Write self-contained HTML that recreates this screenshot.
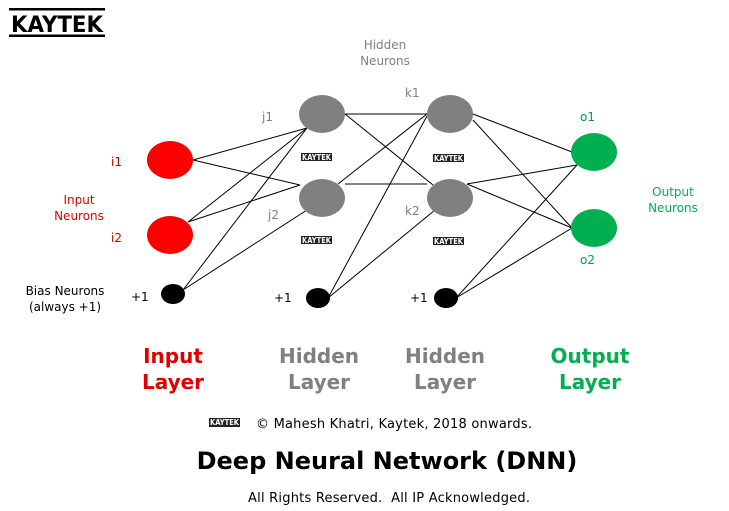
<!DOCTYPE html>
<html><head><meta charset="utf-8"><style>
html,body{margin:0;padding:0;background:#fff;}
svg{display:block;}
text{font-family:"DejaVu Sans","Liberation Sans",sans-serif;}
</style></head><body>
<svg width="729" height="511" viewBox="0 0 729 511" xmlns="http://www.w3.org/2000/svg">
<rect width="729" height="511" fill="#fff"/>
<rect x="9" y="8" width="96" height="2.5" fill="#000"/>
<rect x="9" y="34.5" width="96" height="2.5" fill="#000"/>
<text x="57" y="32" font-size="22" font-weight="bold" text-anchor="middle" textLength="92" lengthAdjust="spacingAndGlyphs" fill="#000">KAYTEK</text>
<g stroke="#000" stroke-width="1" fill="none">
<line x1="193" y1="160" x2="307" y2="128"/>
<line x1="193" y1="160" x2="300" y2="185"/>
<line x1="188" y1="222" x2="307" y2="128"/>
<line x1="188" y1="222" x2="300" y2="185"/>
<line x1="183" y1="290" x2="307" y2="128"/>
<line x1="183" y1="290" x2="307" y2="210"/>
<line x1="345" y1="114" x2="427" y2="114"/>
<line x1="345" y1="114" x2="433" y2="185"/>
<line x1="338" y1="184" x2="427" y2="114"/>
<line x1="345" y1="184" x2="427" y2="184"/>
<line x1="328" y1="298" x2="427" y2="116"/>
<line x1="328" y1="298" x2="435" y2="210"/>
<line x1="473" y1="114" x2="572" y2="152"/>
<line x1="473" y1="120" x2="572" y2="228"/>
<line x1="467" y1="184" x2="577" y2="165"/>
<line x1="467" y1="184" x2="572" y2="228"/>
<line x1="456" y1="298" x2="577" y2="165"/>
<line x1="456" y1="298" x2="572" y2="228"/>
</g>
<ellipse cx="170" cy="160" rx="23" ry="19" fill="#f00"/>
<ellipse cx="170" cy="235" rx="23" ry="19" fill="#f00"/>
<ellipse cx="322" cy="114" rx="23" ry="19" fill="#808080"/>
<ellipse cx="322" cy="198" rx="23" ry="19" fill="#808080"/>
<ellipse cx="450" cy="114" rx="23" ry="19" fill="#808080"/>
<ellipse cx="450" cy="198" rx="23" ry="19" fill="#808080"/>
<ellipse cx="594" cy="152" rx="23" ry="19" fill="#00b050"/>
<ellipse cx="594" cy="228" rx="23" ry="19" fill="#00b050"/>
<ellipse cx="173" cy="294" rx="12" ry="10" fill="#000"/>
<ellipse cx="318" cy="298" rx="12" ry="10" fill="#000"/>
<ellipse cx="446" cy="298" rx="12" ry="10" fill="#000"/>
<g font-size="8" font-weight="bold" fill="#fff" text-anchor="middle">
<rect x="301" y="153" width="31" height="8" fill="#222"/><text x="316.5" y="160" textLength="29" lengthAdjust="spacingAndGlyphs">KAYTEK</text>
<rect x="301" y="236" width="31" height="8" fill="#222"/><text x="316.5" y="243" textLength="29" lengthAdjust="spacingAndGlyphs">KAYTEK</text>
<rect x="433" y="154" width="31" height="8" fill="#222"/><text x="448.5" y="161" textLength="29" lengthAdjust="spacingAndGlyphs">KAYTEK</text>
<rect x="433" y="237" width="31" height="8" fill="#222"/><text x="448.5" y="244" textLength="29" lengthAdjust="spacingAndGlyphs">KAYTEK</text>
<rect x="209" y="418" width="31" height="9" fill="#222"/><text x="224.5" y="425" textLength="29" lengthAdjust="spacingAndGlyphs">KAYTEK</text>
</g>
<g font-size="12">
<text x="385" y="49" fill="#808080" text-anchor="middle">Hidden</text>
<text x="385" y="65" fill="#808080" text-anchor="middle">Neurons</text>
<text x="262" y="121" fill="#808080">j1</text>
<text x="268" y="219" fill="#808080">j2</text>
<text x="405" y="97" fill="#808080">k1</text>
<text x="405" y="215" fill="#808080">k2</text>
<text x="111" y="166" fill="#c00000">i1</text>
<text x="111" y="242" fill="#c00000">i2</text>
<text x="79" y="204" fill="#e00000" text-anchor="middle">Input</text>
<text x="79" y="220" fill="#e00000" text-anchor="middle">Neurons</text>
<text x="580" y="121" fill="#00a050">o1</text>
<text x="580" y="264" fill="#00a050">o2</text>
<text x="673" y="196" fill="#00b050" text-anchor="middle">Output</text>
<text x="673" y="212" fill="#00b050" text-anchor="middle">Neurons</text>
<text x="65" y="295" fill="#000" text-anchor="middle">Bias Neurons</text>
<text x="65" y="311" fill="#000" text-anchor="middle">(always +1)</text>
<text x="131" y="301" fill="#000">+1</text>
<text x="274" y="302" fill="#000">+1</text>
<text x="410" y="302" fill="#000">+1</text>
</g>
<text x="256" y="428" font-size="13" fill="#000" textLength="276" lengthAdjust="spacing">© Mahesh Khatri, Kaytek, 2018 onwards.</text>
<text x="248" y="502" font-size="13" fill="#000" textLength="282" lengthAdjust="spacing" xml:space="preserve">All Rights Reserved.  All IP Acknowledged.</text>
<g font-size="20" font-weight="bold" text-anchor="middle">
<text x="173" y="363" fill="#e00000">Input</text>
<text x="173" y="389" fill="#e00000">Layer</text>
<text x="319" y="363" fill="#808080">Hidden</text>
<text x="319" y="389" fill="#808080">Layer</text>
<text x="445" y="363" fill="#808080">Hidden</text>
<text x="445" y="389" fill="#808080">Layer</text>
<text x="590" y="363" fill="#00b050">Output</text>
<text x="590" y="389" fill="#00b050">Layer</text>
</g>
<text x="387" y="469" font-size="24" font-weight="bold" text-anchor="middle" fill="#000">Deep Neural Network (DNN)</text>
</svg>
</body></html>
